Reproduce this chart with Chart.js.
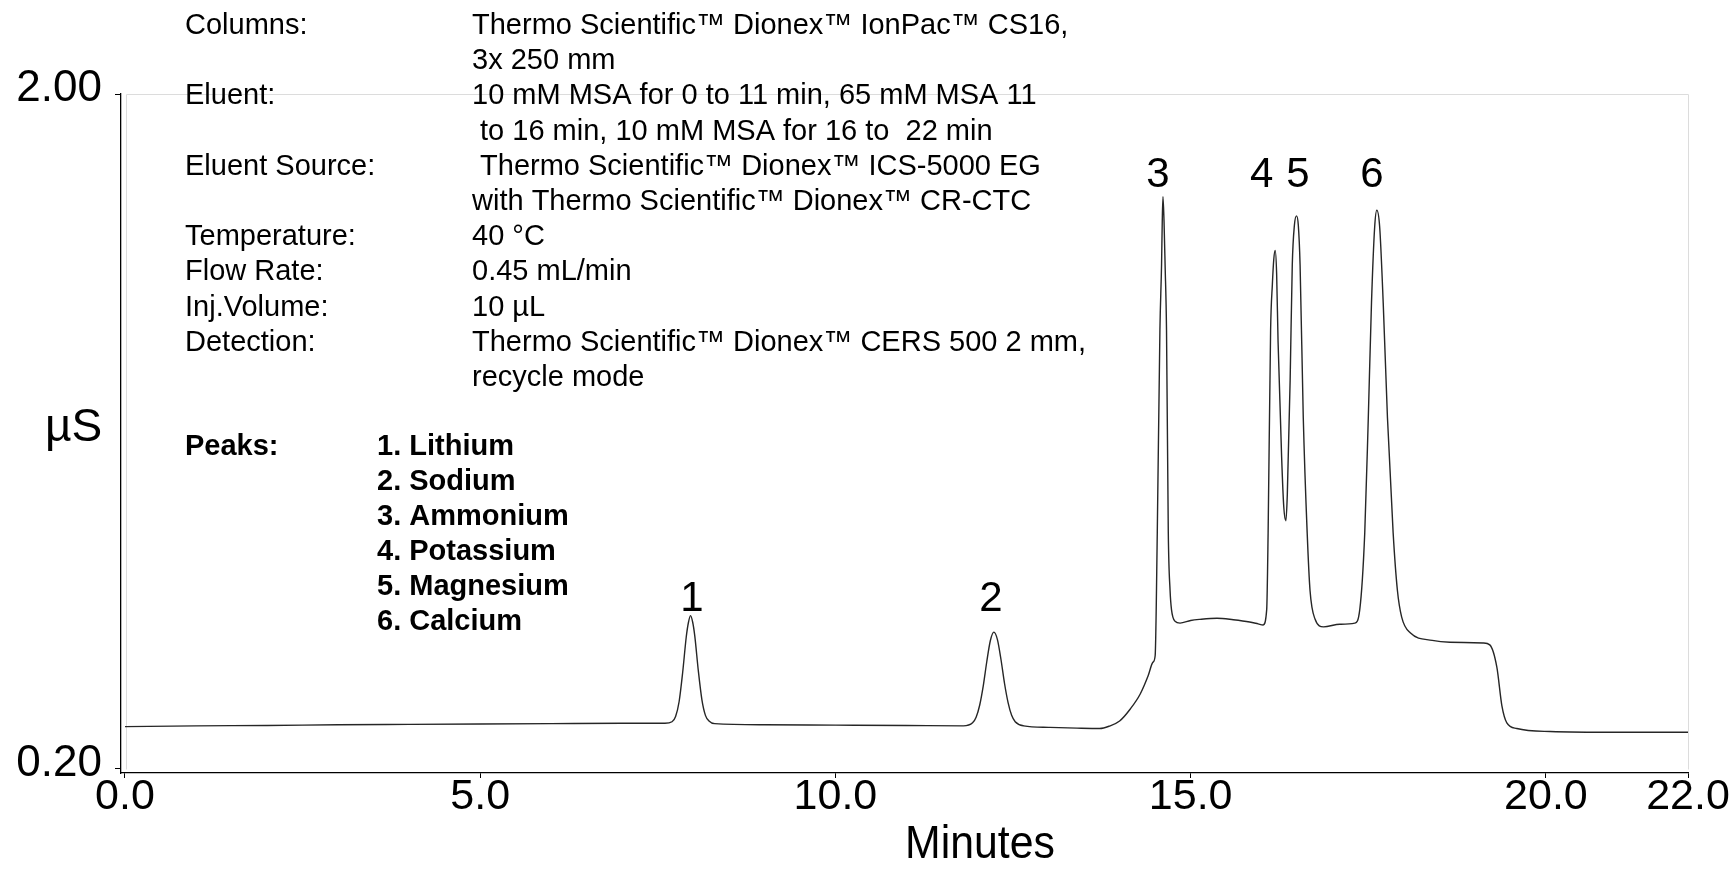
<!DOCTYPE html>
<html>
<head>
<meta charset="utf-8">
<script src="https://cdn.jsdelivr.net/npm/chart.js@4/dist/chart.umd.min.js"></script>
<style>
  html, body { margin: 0; padding: 0; background: #fff; }
  canvas { display: block; }
</style>
</head>
<body>
<canvas id="c" width="1733" height="879"></canvas>
<script>
// ---- Data ----
const times = [
  0.00, 1.00, 2.00, 3.00, 4.00, 5.00, 6.00, 7.00, 7.60,
  7.70, 7.75, 7.80, 7.85, 7.90, 7.93, 7.96, 7.99, 8.02, 8.07, 8.12, 8.17, 8.22, 8.30,
  9.00, 10.00, 11.00, 11.80,
  11.93, 11.98, 12.03, 12.08, 12.13, 12.18, 12.23, 12.28, 12.33, 12.38, 12.43, 12.48, 12.53, 12.65,
  13.00, 13.40, 13.72, 13.85, 14.00, 14.15, 14.29, 14.40, 14.47, 14.50,
  14.53, 14.567, 14.59, 14.60, 14.61, 14.625, 14.64, 14.66, 14.685, 14.71, 14.73, 14.78, 14.85,
  15.00, 15.13, 15.37, 15.60, 15.83, 15.95, 16.02,
  16.07, 16.09, 16.125, 16.15, 16.17, 16.19, 16.21, 16.23, 16.28, 16.31, 16.34,
  16.36, 16.40, 16.43, 16.46, 16.49, 16.515, 16.54, 16.585, 16.64, 16.68, 16.75, 16.87,
  17.10, 17.31,
  17.38, 17.45, 17.50, 17.545, 17.59, 17.62, 17.66, 17.71, 17.77, 17.85, 17.91, 17.97,
  18.09, 18.40, 18.65, 19.12, 19.21, 19.31, 19.38, 19.45, 19.59, 20.06, 21.00, 22.00
];
const signal = [
  0.313, 0.315, 0.316, 0.318, 0.319, 0.320, 0.321, 0.322, 0.322,
  0.326, 0.340, 0.380, 0.458, 0.552, 0.590, 0.609, 0.592, 0.555, 0.462, 0.385, 0.343, 0.328, 0.321,
  0.318, 0.317, 0.316, 0.315,
  0.323, 0.338, 0.370, 0.421, 0.486, 0.542, 0.565, 0.545, 0.492, 0.428, 0.377, 0.343, 0.326, 0.315,
  0.311, 0.309, 0.308, 0.314, 0.328, 0.360, 0.400, 0.448, 0.485, 0.502,
  0.830, 1.370, 1.544, 1.660, 1.726, 1.660, 1.544, 1.370, 0.830, 0.676, 0.625, 0.594, 0.589,
  0.596, 0.599, 0.602, 0.598, 0.592, 0.587, 0.584,
  0.625, 0.829, 1.370, 1.493, 1.560, 1.583, 1.520, 1.340, 1.033, 0.900, 0.862,
  0.931, 1.237, 1.544, 1.650, 1.675, 1.650, 1.544, 1.136, 0.829, 0.676, 0.600, 0.579,
  0.586, 0.589,
  0.625, 0.829, 1.136, 1.443, 1.646, 1.690, 1.646, 1.443, 1.136, 0.829, 0.676, 0.605,
  0.563, 0.543, 0.538, 0.536, 0.531, 0.471, 0.369, 0.323, 0.308, 0.300, 0.298, 0.298
];
const xTicks = [0, 5, 10, 15, 20, 22];
const yTicks = [0.20, 2.00];

const peakNumbers = ['1', '2', '3', '4', '5', '6'];
const peakLabelTimes = [7.98, 12.19, 14.54, 16.00, 16.51, 17.55];
const peakLabelLevels = [0.621, 0.621, 1.752, 1.752, 1.752, 1.752];

const infoLabels = ['Columns:', '', 'Eluent:', '', 'Eluent Source:', '', 'Temperature:', 'Flow Rate:', 'Inj.Volume:', 'Detection:', ''];
const infoValues = [
  'Thermo Scientific\u2122 Dionex\u2122 IonPac\u2122 CS16,',
  '3x 250 mm',
  '10 mM MSA for 0 to 11 min, 65 mM MSA 11',
  ' to 16 min, 10 mM MSA for 16 to  22 min',
  ' Thermo Scientific\u2122 Dionex\u2122 ICS-5000 EG',
  'with Thermo Scientific\u2122 Dionex\u2122 CR-CTC',
  '40 \u00B0C',
  '0.45 mL/min',
  '10 \u00B5L',
  'Thermo Scientific\u2122 Dionex\u2122 CERS 500 2 mm,',
  'recycle mode'
];
const peaksTitle = 'Peaks:';
const peakNames = ['1. Lithium', '2. Sodium', '3. Ammonium', '4. Potassium', '5. Magnesium', '6. Calcium'];
const xTitle = 'Minutes';
const yTitle = '\u00B5S';

// ---- Chart ----
const FONT = "'Liberation Sans', Arial, Helvetica, sans-serif";

const decor = {
  id: 'decor',
  beforeDatasetsDraw(chart) {
    const c = chart.ctx, xs = chart.scales.x, ys = chart.scales.y;
    const l = Math.round(xs.getPixelForValue(0)) + 1.5;
    const r = Math.round(xs.getPixelForValue(22)) + 0.5;
    const t = Math.round(ys.getPixelForValue(2.0)) + 0.5;
    const b = Math.round(ys.getPixelForValue(0.2)) + 0.5;
    c.save();
    c.strokeStyle = '#dcdcdc';
    c.lineWidth = 1;
    c.beginPath();
    c.moveTo(l, b); c.lineTo(l, t); c.lineTo(r, t); c.lineTo(r, b);
    c.stroke();
    c.restore();
  },
  afterDraw(chart) {
    const c = chart.ctx, xs = chart.scales.x, ys = chart.scales.y;
    c.save();
    c.fillStyle = '#000';
    c.textBaseline = 'alphabetic';
    // method info
    c.font = '29px ' + FONT;
    c.textAlign = 'left';
    for (let i = 0; i < infoValues.length; i++) {
      const yb = 34 + i * 35.2;
      if (infoLabels[i]) c.fillText(infoLabels[i], 185, yb);
      c.fillText(infoValues[i], 472, yb);
    }
    // peaks list
    c.font = 'bold 29px ' + FONT;
    c.fillText(peaksTitle, 185, 455);
    for (let i = 0; i < peakNames.length; i++) {
      c.fillText(peakNames[i], 377, 455 + i * 35);
    }
    // peak numbers
    c.font = '42px ' + FONT;
    c.textAlign = 'center';
    for (let i = 0; i < peakNumbers.length; i++) {
      c.fillText(peakNumbers[i], xs.getPixelForValue(peakLabelTimes[i]), ys.getPixelForValue(peakLabelLevels[i]));
    }
    // axis titles
    c.save();
    c.translate(980, 858);
    c.scale(0.93, 1);
    c.font = '46px ' + FONT;
    c.fillText(xTitle, 0, 0);
    c.restore();
    c.font = '46px ' + FONT;
    c.textAlign = 'left';
    c.fillText(yTitle, 45, 441);
    c.restore();
  }
};

new Chart(document.getElementById('c'), {
  type: 'line',
  data: {
    datasets: [{
      data: times.map((t, i) => ({ x: t, y: signal[i] })),
      borderColor: '#262626',
      borderWidth: 1.4,
      pointRadius: 0,
      fill: false,
      cubicInterpolationMode: 'monotone'
    }]
  },
  options: {
    responsive: false,
    animation: false,
    events: [],
    layout: { padding: { top: 94, right: 45, left: 0, bottom: 0 } },
    plugins: { legend: { display: false }, tooltip: { enabled: false } },
    scales: {
      x: {
        type: 'linear',
        min: -0.056,
        max: 22,
        afterBuildTicks: s => { s.ticks = xTicks.map(v => ({ value: v })); },
        afterFit: s => { s.height = 106; },
        ticks: {
          callback: v => Number(v).toFixed(1),
          font: { family: FONT, size: 43, lineHeight: 1 },
          color: '#000',
          padding: -2,
          maxRotation: 0,
          autoSkip: false
        },
        grid: { display: true, drawOnChartArea: false, drawTicks: true, tickLength: 5, color: '#000', lineWidth: 1 },
        border: { display: true, color: '#000', width: 1.3 }
      },
      y: {
        type: 'linear',
        min: 0.1893,
        max: 2.0,
        afterBuildTicks: s => { s.ticks = yTicks.map(v => ({ value: v })); },
        afterFit: s => { s.width = 121; },
        ticks: {
          callback: v => Number(v).toFixed(2),
          font: { family: FONT, size: 44 },
          color: '#000',
          padding: 13,
          labelOffset: -5,
          autoSkip: false
        },
        grid: { display: true, drawOnChartArea: false, drawTicks: true, tickLength: 6, color: '#000', lineWidth: 1 },
        border: { display: true, color: '#000', width: 1.3 }
      }
    }
  },
  plugins: [decor]
});
</script>
</body>
</html>
